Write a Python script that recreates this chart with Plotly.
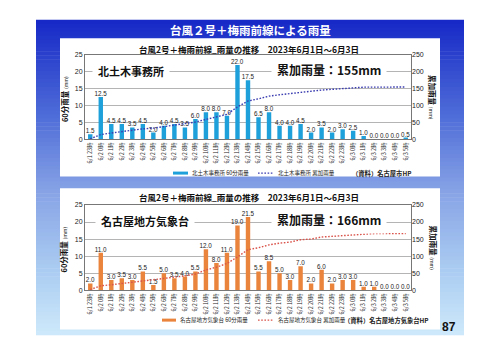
import plotly.graph_objects as go

# ---------------- data ----------------
hours = ["6/1 23時", "6/2 0時", "6/2 1時", "6/2 2時", "6/2 3時", "6/2 4時", "6/2 5時",
         "6/2 6時", "6/2 7時", "6/2 8時", "6/2 9時", "6/2 10時", "6/2 11時", "6/2 12時",
         "6/2 13時", "6/2 14時", "6/2 15時", "6/2 16時", "6/2 17時", "6/2 18時", "6/2 19時",
         "6/2 20時", "6/2 21時", "6/2 22時", "6/2 23時", "6/3 0時", "6/3 1時", "6/3 2時",
         "6/3 3時", "6/3 4時", "6/3 5時"]

kita_60min = [1.5, 12.5, 4.5, 4.5, 3.5, 4.5, 2.0, 4.0, 4.5, 3.5, 6.0, 8.0, 8.0, 7.0, 22.0,
              17.5, 6.5, 8.0, 4.0, 4.0, 4.5, 2.0, 3.5, 2.0, 3.0, 2.5, 1.0, 0.0, 0.0, 0.0, 0.5]
kita_cum = [1.5, 14.0, 18.5, 23.0, 26.5, 31.0, 33.0, 37.0, 41.5, 45.0, 51.0, 59.0, 67.0, 74.0,
            96.0, 113.5, 120.0, 128.0, 132.0, 136.0, 140.5, 142.5, 146.0, 148.0, 151.0, 153.5,
            154.5, 154.5, 154.5, 154.5, 155.0]

nagoya_60min = [2.0, 11.0, 3.0, 3.5, 3.0, 5.5, 1.5, 5.0, 3.5, 4.0, 5.5, 12.0, 8.0, 11.0, 19.0,
                21.5, 5.5, 8.5, 5.0, 3.0, 7.0, 2.0, 6.0, 2.0, 3.0, 3.0, 1.0, 1.0, 0.0, 0.0, 0.0]
nagoya_cum = [2.0, 13.0, 16.0, 19.5, 22.5, 28.0, 29.5, 34.5, 38.0, 42.0, 47.5, 59.5, 67.5, 78.5,
              97.5, 119.0, 124.5, 133.0, 138.0, 141.0, 148.0, 150.0, 156.0, 158.0, 161.0, 164.0,
              165.0, 166.0, 166.0, 166.0, 166.0]

page_title = "台風２号＋梅雨前線による雨量"
chart_title = "台風2号＋梅雨前線_雨量の推移　2023年6月1日～6月3日"

# ---------------- layout helpers ----------------
W, H = 500, 354
FONT = "Noto Sans CJK JP"
DOT = "1.6px,1.6px"


def px(x):
    return x / W


def py(y):
    return 1 - y / H


def ann(text, x, y, size, color="#111", xanchor="center", family=FONT, **kw):
    d = dict(text=text, x=px(x), y=py(y), xref="paper", yref="paper", showarrow=False,
             xanchor=xanchor, yanchor="middle", font=dict(family=family, size=size, color=color))
    d.update(kw)
    return d


fig = go.Figure()
shapes = []
annotations = []

# gradient blue frame
stops = [(0.0, (22, 40, 198)), (0.3, (78, 108, 216)), (0.55, (136, 164, 230)),
         (0.8, (172, 205, 242)), (1.0, (205, 233, 250))]


def grad(t):
    for (t0, c0), (t1, c1) in zip(stops[:-1], stops[1:]):
        if t0 <= t <= t1:
            f = (t - t0) / (t1 - t0)
            return "rgb(%d,%d,%d)" % tuple(round(a + (b - a) * f) for a, b in zip(c0, c1))
    return "rgb(%d,%d,%d)" % stops[-1][1]


fy0, fy1 = 16, 338
N = 80
for i in range(N):
    y0 = fy0 + (fy1 - fy0) * i / N
    y1 = min(fy0 + (fy1 - fy0) * (i + 1) / N + 0.6, fy1)
    shapes.append(dict(type="rect", xref="paper", yref="paper", layer="below",
                       x0=px(36), x1=px(464), y0=py(y1), y1=py(y0),
                       line=dict(width=0), fillcolor=grad((i + 0.5) / N)))

# white panels
for (a, b) in [(35, 176), (188, 332)]:
    shapes.append(dict(type="rect", xref="paper", yref="paper", layer="below",
                       x0=px(60), x1=px(440), y0=py(b), y1=py(a),
                       line=dict(width=0), fillcolor="white"))

annotations.append(ann("<b>" + page_title + "</b>", 250, 26.5, 11.5, color="white"))
annotations.append(ann("<b>87</b>", 449, 330, 12, family="Liberation Sans"))

panels = [
    dict(vals=kita_60min, cum=kita_cum, top=52, bot=138, bar="#1ea0da", line="#3a3cb0",
         name="北土木事務所", namex=131, total="累加雨量：155mm", title_y=46,
         leg1="北土木事務所 60分雨量", leg2="北土木事務所 累加雨量", src="（資料）名古屋市HP",
         leg_y=172.5, s1=(173, 188), t1=190, s2=(258, 273), t2=276, srcx=350),
    dict(vals=nagoya_60min, cum=nagoya_cum, top=205, bot=292, bar="#ea843c", line="#d9534a",
         name="名古屋地方気象台", namex=145, total="累加雨量：166mm", title_y=197,
         leg1="名古屋地方気象台 60分雨量", leg2="名古屋地方気象台 累加雨量",
         src="（資料）名古屋地方気象台HP",
         leg_y=322.5, s1=(162, 176), t1=178, s2=(258, 273), t2=276, srcx=342),
]

for k, p in enumerate(panels):
    xa = "x" if k == 0 else "x2"
    ya = "y" if k == 0 else "y3"
    ya2 = "y2" if k == 0 else "y4"
    xkey = "xaxis" if k == 0 else "xaxis2"
    ykey = "yaxis" if k == 0 else "yaxis3"
    y2key = "yaxis2" if k == 0 else "yaxis4"

    fig.add_trace(go.Bar(x=hours, y=p["vals"], xaxis=xa, yaxis=ya, marker_color=p["bar"],
                         marker_line_width=0, width=0.42,
                         text=["%.1f" % v for v in p["vals"]], textposition="outside",
                         constraintext="none", cliponaxis=False,
                         textfont=dict(family="Liberation Sans", size=6.3, color="#222"),
                         showlegend=False))
    fig.add_trace(go.Scatter(x=hours, y=p["cum"], xaxis=xa, yaxis=ya2, mode="lines",
                             line=dict(color=p["line"], width=1.4, dash=DOT),
                             showlegend=False))

    dom_y = [py(p["bot"]), py(p["top"])]
    fig.layout[xkey] = dict(domain=[px(85), px(411)], anchor=ya, type="category",
                            tickangle=-90, tickfont=dict(family=FONT, size=5.5, color="#222"),
                            showline=True, mirror=True, linecolor="#777", linewidth=1,
                            ticks="", showgrid=False, fixedrange=True)
    fig.layout[ykey] = dict(domain=dom_y, anchor=xa, range=[0, 25], dtick=5,
                            showgrid=True, gridcolor="#b4b4b4", gridwidth=1.2,
                            showline=True, linecolor="#777", mirror=True, zeroline=False,
                            tickfont=dict(family="Liberation Sans", size=7, color="#222"),
                            ticks="", fixedrange=True)
    fig.layout[y2key] = dict(domain=dom_y, anchor=xa, overlaying=ya, side="right",
                             range=[0, 250], dtick=50, showgrid=False, zeroline=False,
                             tickfont=dict(family="Liberation Sans", size=7, color="#222"),
                             ticks="", fixedrange=True)

    annotations.append(ann("<b>" + chart_title + "</b>", 249, p["title_y"], 8.5))
    mid = (p["top"] + p["bot"]) / 2
    annotations.append(ann("<b>60分雨量</b> <span style='font-size:5px'>(mm)</span>",
                           64, mid + 2, 7.5, textangle=-90))
    annotations.append(ann("<b>累加雨量</b> <span style='font-size:5px'>(mm)</span>",
                           433, mid, 7.5, textangle=90))
    label_y = p["top"] + 16
    annotations.append(ann("<b>" + p["name"] + "</b>", p["namex"], label_y, 11,
                           bgcolor="white", borderpad=5))
    annotations.append(ann("<b>" + p["total"] + "</b>", 329, label_y - 1, 12,
                           bgcolor="white", borderpad=5))

    # legend
    ly = p["leg_y"]
    shapes.append(dict(type="line", xref="paper", yref="paper", x0=px(p["s1"][0]),
                       x1=px(p["s1"][1]), y0=py(ly), y1=py(ly),
                       line=dict(color=p["bar"], width=3)))
    shapes.append(dict(type="line", xref="paper", yref="paper", x0=px(p["s2"][0]),
                       x1=px(p["s2"][1]), y0=py(ly), y1=py(ly),
                       line=dict(color=p["line"], width=1.2, dash=DOT)))
    annotations.append(ann(p["leg1"], p["t1"], ly, 5.5, color="#222", xanchor="left"))
    annotations.append(ann(p["leg2"], p["t2"], ly, 5.5, color="#222", xanchor="left"))
    annotations.append(ann("<b>" + p["src"] + "</b>", p["srcx"], ly + 0.5, 6.3,
                           color="#222", xanchor="left"))

fig.update_layout(width=W, height=H, margin=dict(l=0, r=0, t=0, b=0),
                  paper_bgcolor="white", plot_bgcolor="rgba(0,0,0,0)",
                  showlegend=False, shapes=shapes, annotations=annotations,
                  font=dict(family=FONT), bargap=0.6)

fig.write_html("out.html")
